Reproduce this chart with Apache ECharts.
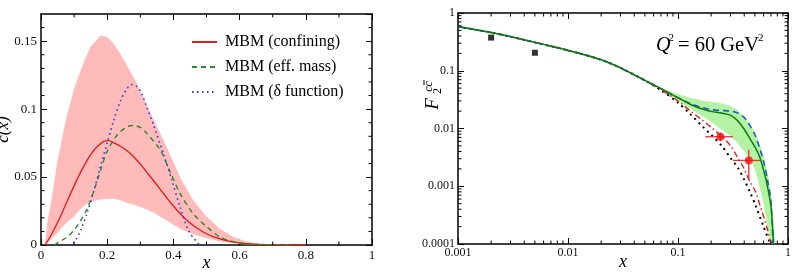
<!DOCTYPE html>
<html>
<head>
<meta charset="utf-8">
<script src="https://cdn.jsdelivr.net/npm/echarts@6/dist/echarts.min.js"></script>
<style>
html, body { margin: 0; padding: 0; background: #fff; }
#main { width: 792px; height: 276px; }
</style>
</head>
<body>
<div id="main"></div>
<script>
// ---- left panel: c(x) ----
var confX = [0.012, 0.03, 0.057, 0.075, 0.1, 0.125, 0.15, 0.17, 0.19, 0.205, 0.22, 0.24, 0.26, 0.28, 0.3, 0.32, 0.34, 0.36, 0.38, 0.4, 0.42, 0.44, 0.46, 0.48, 0.5, 0.52, 0.56, 0.6, 0.64, 0.7, 0.8];
var confY = [0, 0.007, 0.02, 0.03, 0.0435, 0.056, 0.0665, 0.0725, 0.0763, 0.0768, 0.0752, 0.0727, 0.0693, 0.065, 0.0595, 0.0535, 0.0473, 0.041, 0.0347, 0.0287, 0.0232, 0.0184, 0.0143, 0.011, 0.0083, 0.0062, 0.0033, 0.0016, 0.0007, 0.0002, 0];
var effX = [0.04, 0.06, 0.08, 0.1, 0.12, 0.14, 0.16, 0.18, 0.2, 0.23, 0.26, 0.28, 0.3, 0.32, 0.36, 0.39, 0.42, 0.46, 0.5, 0.54, 0.58, 0.62, 0.68, 0.75];
var effY = [0, 0.003, 0.006, 0.011, 0.018, 0.027, 0.04, 0.055, 0.069, 0.081, 0.087, 0.088, 0.0865, 0.082, 0.07, 0.054, 0.038, 0.023, 0.0135, 0.006, 0.0025, 0.0008, 0.0002, 0];
var deltaX = [0.083, 0.1, 0.12, 0.14, 0.16, 0.18, 0.2, 0.22, 0.24, 0.26, 0.274, 0.29, 0.304, 0.32, 0.339, 0.37, 0.395, 0.42, 0.445, 0.475, 0.49, 0.53];
var deltaY = [0, 0.002, 0.011, 0.024, 0.04, 0.058, 0.075, 0.092, 0.106, 0.115, 0.118, 0.1165, 0.1115, 0.101, 0.089, 0.067, 0.048, 0.028, 0.011, 0.0012, 0, 0];
var bandX = [0.012, 0.02, 0.03, 0.05, 0.075, 0.1, 0.125, 0.15, 0.18, 0.2, 0.22, 0.239, 0.26, 0.289, 0.31, 0.339, 0.38, 0.42, 0.46, 0.5, 0.54, 0.58, 0.62, 0.66, 0.7, 0.75, 0.8];
var bandHi = [0, 0.018, 0.031, 0.062, 0.092, 0.115, 0.132, 0.146, 0.154, 0.153, 0.148, 0.141, 0.132, 0.119, 0.108, 0.093, 0.072, 0.05, 0.033, 0.021, 0.012, 0.006, 0.0025, 0.0009, 0.0003, 0.0001, 0];
var bandLo = [0, 0.001, 0.004, 0.009, 0.016, 0.021, 0.028, 0.032, 0.0335, 0.034, 0.034, 0.033, 0.031, 0.029, 0.027, 0.024, 0.018, 0.012, 0.008, 0.005, 0.0025, 0.0012, 0.0005, 0.0002, 0.0001, 0, 0];
var leftNames = ['MBM (confining)', 'MBM (eff. mass)', 'MBM (\u03b4 function)'];

// ---- right panel: F2 cc ----
var commonX = [0.001, 0.002, 0.003, 0.005, 0.01, 0.02, 0.03, 0.05];
var commonY = [0.58, 0.46, 0.39, 0.31, 0.225, 0.155, 0.112, 0.068];
var greenX = [0.07, 0.1, 0.13, 0.17, 0.2, 0.25, 0.3, 0.35, 0.4, 0.45, 0.5, 0.55, 0.6, 0.65, 0.7, 0.74];
var greenY = [0.049, 0.034, 0.026, 0.0215, 0.0198, 0.0185, 0.017, 0.0135, 0.0097, 0.0067, 0.0048, 0.0033, 0.0019, 0.001, 0.00045, 0.0001];
var blueX = [0.07, 0.1, 0.13, 0.17, 0.2, 0.25, 0.3, 0.35, 0.4, 0.45, 0.5, 0.55, 0.6, 0.65, 0.7, 0.73];
var blueY = [0.049, 0.034, 0.027, 0.0228, 0.0212, 0.0205, 0.02, 0.0185, 0.0155, 0.0113, 0.0078, 0.0047, 0.0027, 0.0013, 0.00055, 0.0001];
var redX = [0.07, 0.1, 0.13, 0.17, 0.2, 0.25, 0.3, 0.35, 0.4, 0.45, 0.5, 0.56, 0.6, 0.65, 0.7];
var redY = [0.047, 0.03, 0.02, 0.0135, 0.0105, 0.0073, 0.005, 0.0031, 0.002, 0.0012, 0.00085, 0.00045, 0.0003, 0.00018, 0.0001];
var blackX = [0.07, 0.1, 0.13, 0.17, 0.2, 0.25, 0.3, 0.35, 0.4, 0.45, 0.5, 0.6, 0.69];
var blackY = [0.046, 0.028, 0.0175, 0.0105, 0.0078, 0.005, 0.0031, 0.0021, 0.0013, 0.0008, 0.0005, 0.0002, 0.0001];
var gBandX = [0.05, 0.07, 0.1, 0.13, 0.17, 0.2, 0.25, 0.3, 0.35, 0.4, 0.45, 0.5, 0.55, 0.6, 0.65, 0.7, 0.73, 0.76];
var gBandHi = [0.068, 0.051, 0.039, 0.034, 0.03, 0.029, 0.027, 0.0245, 0.0205, 0.0158, 0.0118, 0.0085, 0.0055, 0.0033, 0.0018, 0.0007, 0.0003, 0.0001];
var gBandLo = [0.068, 0.047, 0.03, 0.022, 0.016, 0.013, 0.0095, 0.0075, 0.0055, 0.004, 0.0029, 0.002, 0.001, 0.0005, 0.0002, 0.0001, 0.0001, 0.0001];
var sqX = [0.002, 0.005];
var sqY = [0.375, 0.205];
var ptX = [0.243, 0.44];
var ptY = [0.0072, 0.0028];
var ptXLo = [0.177, 0.316];
var ptXHi = [0.316, 0.56];
var ptYLo = [0.006, 0.0013];
var ptYHi = [0.0085, 0.0043];

// minor tick positions
var linMinorX = [0.1, 0.3, 0.5, 0.7, 0.9];
var linMinorY = [0.01, 0.02, 0.03, 0.04, 0.06, 0.07, 0.08, 0.09, 0.11, 0.12, 0.13, 0.14, 0.16];
var logMinor = [];
[0.001, 0.01, 0.1].forEach(function (d) {
    for (var k = 2; k <= 9; k++) logMinor.push(+(d * k).toPrecision(2));
});
var logMinorY = [0.0001, 0.001, 0.01, 0.1].reduce(function (a, d) {
    for (var k = 2; k <= 9; k++) a.push(+(d * k).toPrecision(2));
    return a;
}, []);

function zip(xs, ys) {
    return xs.map(function (x, i) { return [x, ys[i]]; });
}

var serif = 'Liberation Serif';

function bandRender(xs, hi, lo, color) {
    return function (params, api) {
        var pts = [];
        for (var i = 0; i < xs.length; i++) pts.push(api.coord([xs[i], hi[i]]));
        for (var j = xs.length - 1; j >= 0; j--) pts.push(api.coord([xs[j], lo[j]]));
        return { type: 'polygon', shape: { points: pts }, style: { fill: color } };
    };
}

function tickRender(dir, len) {
    return function (params, api) {
        var cs = params.coordSys;
        var p = api.coord([api.value(0), api.value(1)]);
        var st = { stroke: '#000', lineWidth: 1 };
        if (dir === 'x') {
            var b = cs.y + cs.height, t = cs.y;
            return { type: 'group', children: [
                { type: 'line', shape: { x1: p[0], y1: b, x2: p[0], y2: b - len }, style: st },
                { type: 'line', shape: { x1: p[0], y1: t, x2: p[0], y2: t + len }, style: st }
            ] };
        }
        var l = cs.x, r = cs.x + cs.width;
        return { type: 'group', children: [
            { type: 'line', shape: { x1: l, y1: p[1], x2: l + len, y2: p[1] }, style: st },
            { type: 'line', shape: { x1: r, y1: p[1], x2: r - len, y2: p[1] }, style: st }
        ] };
    };
}

function errRender(params, api) {
    var c = api.coord([api.value(0), api.value(1)]);
    var x0 = api.coord([api.value(2), api.value(1)])[0];
    var x1 = api.coord([api.value(3), api.value(1)])[0];
    var y0 = api.coord([api.value(0), api.value(4)])[1];
    var y1 = api.coord([api.value(0), api.value(5)])[1];
    var st = { stroke: '#f03030', lineWidth: 1.3 };
    return { type: 'group', children: [
        { type: 'line', shape: { x1: x0, y1: c[1], x2: x1, y2: c[1] }, style: st },
        { type: 'line', shape: { x1: c[0], y1: y0, x2: c[0], y2: y1 }, style: st }
    ] };
}

var axLine = { show: true, onZero: false, lineStyle: { color: '#000', width: 1.5 } };
var tick = { show: true, inside: true, length: 6, lineStyle: { color: '#000', width: 1 } };
var lbl = { color: '#111', fontFamily: serif, fontSize: 13, margin: 4 };
var lblR = { color: '#111', fontFamily: serif, fontSize: 12, margin: 3,
    formatter: function (v) { return String(+(+v).toPrecision(1)); } };
var nameStyle = { fontFamily: serif, fontStyle: 'italic', fontSize: 18, color: '#000' };

var myChart = echarts.init(document.getElementById('main'));
var option = {
    animation: false,
    backgroundColor: '#fff',
    grid: [
        { left: 41, top: 14, width: 331, height: 231, containLabel: false, outerBoundsMode: 'none' },
        { left: 458, top: 13, width: 330, height: 231, containLabel: false, outerBoundsMode: 'none' }
    ],
    legend: {
        data: leftNames,
        orient: 'vertical',
        left: 191,
        top: 33,
        padding: 0,
        itemWidth: 25,
        itemHeight: 10,
        itemGap: 7,
        itemStyle: { opacity: 0 },
        textStyle: { fontFamily: serif, fontSize: 16, color: '#000', lineHeight: 18, padding: [0, 0, 0, 3] }
    },
    xAxis: [
        { gridIndex: 0, type: 'value', min: 0, max: 1, interval: 0.2, position: 'bottom',
          axisLine: axLine, axisTick: tick, splitLine: { show: false },
          axisLabel: Object.assign({}, lbl, { formatter: function (v) { return String(+v.toFixed(2)); } }),
          name: 'x', nameLocation: 'middle', nameGap: 9, nameMoveOverlap: false, nameTextStyle: nameStyle },
        { gridIndex: 0, type: 'value', min: 0, max: 1, interval: 0.2, position: 'top',
          axisLine: axLine, axisTick: tick, splitLine: { show: false }, axisLabel: { show: false } },
        { gridIndex: 1, type: 'log', logBase: 10, min: 0.001, max: 1, position: 'bottom',
          axisLine: axLine, axisTick: tick, splitLine: { show: false }, axisLabel: lblR,
          name: 'x', nameLocation: 'middle', nameGap: 9, nameMoveOverlap: false, nameTextStyle: nameStyle },
        { gridIndex: 1, type: 'log', logBase: 10, min: 0.001, max: 1, position: 'top',
          axisLine: axLine, axisTick: tick, splitLine: { show: false }, axisLabel: { show: false } }
    ],
    yAxis: [
        { gridIndex: 0, type: 'value', min: 0, max: 0.17, interval: 0.05, position: 'left',
          axisLine: axLine, axisTick: tick, splitLine: { show: false },
          axisLabel: Object.assign({}, lbl, { showMaxLabel: false }),
          name: 'c(x)', nameLocation: 'middle', nameGap: 28.5, nameRotate: 90, nameMoveOverlap: false,
          nameTextStyle: { fontFamily: serif, fontStyle: 'italic', fontSize: 17, color: '#000' } },
        { gridIndex: 0, type: 'value', min: 0, max: 0.17, interval: 0.05, position: 'right',
          axisLine: axLine, axisTick: tick, splitLine: { show: false }, axisLabel: { show: false } },
        { gridIndex: 1, type: 'log', logBase: 10, min: 0.0001, max: 1, position: 'left',
          axisLine: axLine, axisTick: tick, splitLine: { show: false }, axisLabel: lblR },
        { gridIndex: 1, type: 'log', logBase: 10, min: 0.0001, max: 1, position: 'right',
          axisLine: axLine, axisTick: tick, splitLine: { show: false }, axisLabel: { show: false } }
    ],
    graphic: [
        { type: 'text', x: 433, y: 104, rotation: Math.PI / 2,
          style: { text: 'F', font: 'italic 19px ' + serif, fill: '#000', align: 'center', verticalAlign: 'middle' } },
        { type: 'text', x: 438, y: 91, rotation: Math.PI / 2,
          style: { text: '2', font: '12px ' + serif, fill: '#000', align: 'center', verticalAlign: 'middle' } },
        { type: 'text', x: 429, y: 86.5, rotation: Math.PI / 2,
          style: { text: 'cc', font: 'italic 12px ' + serif, fill: '#000', align: 'center', verticalAlign: 'middle' } },
        { type: 'line', shape: { x1: 424, y1: 80, x2: 424, y2: 85 }, style: { stroke: '#000', lineWidth: 1 } },
        { type: 'text', x: 656, y: 46,
          style: { text: 'Q', font: 'italic 20px ' + serif, fill: '#000', align: 'left', verticalAlign: 'middle' } },
        { type: 'text', x: 668.5, y: 38,
          style: { text: '2', font: '11px ' + serif, fill: '#000', align: 'left', verticalAlign: 'middle' } },
        { type: 'text', x: 678, y: 46,
          style: { text: '= 60 GeV', font: '20.5px ' + serif, fill: '#000', align: 'left', verticalAlign: 'middle' } },
        { type: 'text', x: 758, y: 38,
          style: { text: '2', font: '11px ' + serif, fill: '#000', align: 'left', verticalAlign: 'middle' } }
    ],
    series: [
        { type: 'custom', xAxisIndex: 0, yAxisIndex: 0, silent: true, z: 1, clip: true,
          data: [[0.5, 0.05]], renderItem: bandRender(bandX, bandHi, bandLo, '#ffbaba') },
        { name: leftNames[0], type: 'line', xAxisIndex: 0, yAxisIndex: 0, symbol: 'none', smooth: 0.3, z: 3,
          data: zip(confX, confY), lineStyle: { color: '#e41a1a', width: 1.3 }, itemStyle: { color: '#e41a1a' } },
        { name: leftNames[1], type: 'line', xAxisIndex: 0, yAxisIndex: 0, symbol: 'none', smooth: 0.3, z: 3,
          data: zip(effX, effY), lineStyle: { color: '#2b8a2b', width: 1.4, type: [5, 4] }, itemStyle: { color: '#2b8a2b' } },
        { name: leftNames[2], type: 'line', xAxisIndex: 0, yAxisIndex: 0, symbol: 'none', smooth: 0.3, z: 3,
          data: zip(deltaX, deltaY), lineStyle: { color: '#3434e0', width: 1.6, type: [1.5, 3.5] }, itemStyle: { color: '#3434e0' } },
        { type: 'custom', xAxisIndex: 0, yAxisIndex: 0, silent: true, z: 5,
          data: linMinorX.map(function (v) { return [v, 0.05]; }), renderItem: tickRender('x', 3.5) },
        { type: 'custom', xAxisIndex: 0, yAxisIndex: 0, silent: true, z: 5,
          data: linMinorY.map(function (v) { return [0.5, v]; }), renderItem: tickRender('y', 3.5) },

        { type: 'custom', xAxisIndex: 2, yAxisIndex: 2, silent: true, z: 1, clip: true,
          data: [[0.1, 0.01]], renderItem: bandRender(gBandX, gBandHi, gBandLo, '#b3f3a3') },
        { type: 'line', xAxisIndex: 2, yAxisIndex: 2, symbol: 'none', smooth: 0.3, z: 3,
          data: zip(commonX.concat(blackX), commonY.concat(blackY)), lineStyle: { color: '#000', width: 2, type: [2, 4] } },
        { type: 'line', xAxisIndex: 2, yAxisIndex: 2, symbol: 'none', smooth: 0.3, z: 3,
          data: zip(commonX.concat(redX), commonY.concat(redY)), lineStyle: { color: '#e41a1a', width: 1.4, type: [6, 3, 1.5, 3] } },
        { type: 'line', xAxisIndex: 2, yAxisIndex: 2, symbol: 'none', smooth: 0.3, z: 3,
          data: zip(commonX.concat(blueX), commonY.concat(blueY)), lineStyle: { color: '#1f5ad8', width: 1.6, type: [6, 4] } },
        { type: 'line', xAxisIndex: 2, yAxisIndex: 2, symbol: 'none', smooth: 0.3, z: 4,
          data: zip(commonX.concat(greenX), commonY.concat(greenY)), lineStyle: { color: '#0a7d0a', width: 1.5 } },
        { type: 'scatter', xAxisIndex: 2, yAxisIndex: 2, symbol: 'rect', symbolSize: 6, z: 6,
          data: zip(sqX, sqY), itemStyle: { color: '#000' } },
        { type: 'custom', xAxisIndex: 2, yAxisIndex: 2, silent: true, z: 6,
          data: ptX.map(function (x, i) { return [x, ptY[i], ptXLo[i], ptXHi[i], ptYLo[i], ptYHi[i]]; }),
          renderItem: errRender },
        { type: 'scatter', xAxisIndex: 2, yAxisIndex: 2, symbol: 'circle', symbolSize: 8, z: 7,
          data: zip(ptX, ptY), itemStyle: { color: '#f01010' } },
        { type: 'custom', xAxisIndex: 2, yAxisIndex: 2, silent: true, z: 5,
          data: logMinor.map(function (v) { return [v, 0.01]; }), renderItem: tickRender('x', 3.5) },
        { type: 'custom', xAxisIndex: 2, yAxisIndex: 2, silent: true, z: 5,
          data: logMinorY.map(function (v) { return [0.1, v]; }), renderItem: tickRender('y', 3.5) }
    ]
};
myChart.setOption(option, true);
</script>
</body>
</html>
